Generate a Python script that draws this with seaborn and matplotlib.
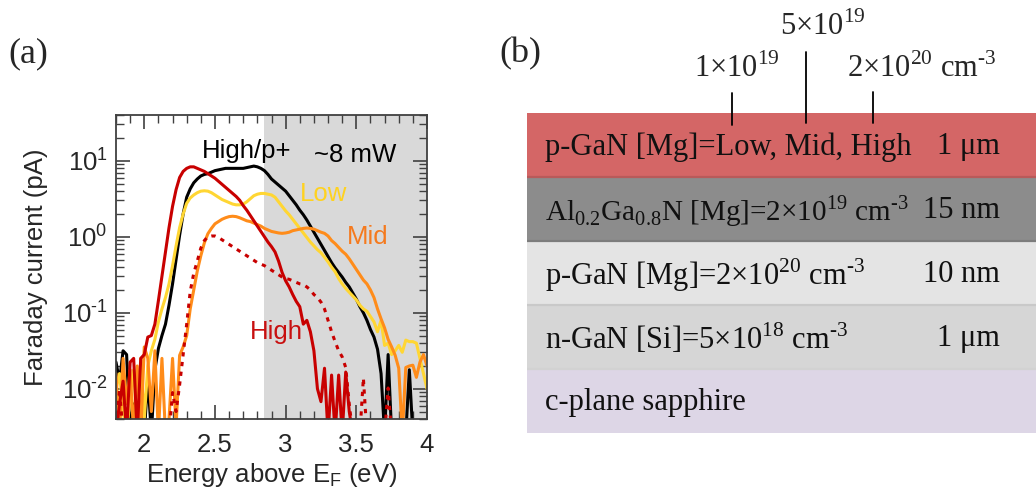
import numpy as np
import matplotlib
matplotlib.use("Agg")
import matplotlib.pyplot as plt
from matplotlib.ticker import MultipleLocator, FuncFormatter, LogLocator
from matplotlib.lines import Line2D
import seaborn as sns

# energy axis of the spectra (eV above E_F)
energy = [1.800, 1.825, 1.850, 1.875, 1.900, 1.925, 1.950, 1.975, 2.000, 2.025,
          2.050, 2.075, 2.100, 2.125, 2.150, 2.175, 2.200, 2.225, 2.250, 2.275,
          2.300, 2.325, 2.350, 2.375, 2.400, 2.425, 2.450, 2.475, 2.500, 2.525,
          2.550, 2.575, 2.600, 2.625, 2.650, 2.675, 2.700, 2.725, 2.750, 2.775,
          2.800, 2.825, 2.850, 2.875, 2.900, 2.925, 2.950, 2.975, 3.000, 3.025,
          3.050, 3.075, 3.100, 3.125, 3.150, 3.175, 3.200, 3.225, 3.250, 3.275,
          3.300, 3.325, 3.350, 3.375, 3.400, 3.425, 3.450, 3.475, 3.500, 3.525,
          3.550, 3.575, 3.600, 3.625, 3.650, 3.675, 3.700, 3.725, 3.750, 3.775,
          3.800, 3.825, 3.850, 3.875, 3.900, 3.925, 3.950, 3.975, 4.000]

# log10 of Faraday current (pA)
log_highp = [-1.65, -1.9, -1.5, -1.55, -2.6, -2.2, -2.6, -2.3, -2.6, -1.85,
             -2.6, -1.75, -1.47, -1.3, -1.15, -0.9, -0.62, -0.3, 0.02, 0.3,
             0.52, 0.63, 0.71, 0.76, 0.8, 0.82, 0.83, 0.85, 0.87, 0.88,
             0.89, 0.9, 0.9, 0.9, 0.9, 0.9, 0.9, 0.91, 0.92, 0.93,
             0.92, 0.9, 0.87, 0.82, 0.76, 0.72, 0.68, 0.64, 0.6, 0.54,
             0.48, 0.42, 0.35, 0.29, 0.22, 0.14, 0.06, -0.02, -0.1, -0.18,
             -0.26, -0.34, -0.41, -0.47, -0.53, -0.6, -0.66, -0.74, -0.82, -0.92,
             -1.0, -1.1, -1.22, -1.32, -1.48, -1.8, -2.6, -1.55, -2.6, -2.6,
             -2.6, -2.6, -2.6, -1.75, -2.6, -2.6, -2.6, -2.6, -2.6]

log_low = [-2.0, -1.8, -2.3, -2.6, -2.1, -1.75, -2.6, -1.6, -2.4, -1.7,
           -1.5, -1.35, -1.12, -0.95, -0.8, -0.62, -0.38, -0.12, 0.12, 0.3,
           0.44, 0.51, 0.55, 0.58, 0.6, 0.605, 0.6, 0.58, 0.55, 0.52,
           0.49, 0.47, 0.45, 0.43, 0.42, 0.42, 0.43, 0.46, 0.5, 0.54,
           0.56, 0.57, 0.57, 0.56, 0.55, 0.52, 0.46, 0.4, 0.34, 0.29,
           0.23, 0.17, 0.11, 0.05, -0.01, -0.07, -0.12, -0.17, -0.21, -0.27,
           -0.33, -0.4, -0.46, -0.55, -0.62, -0.68, -0.73, -0.78, -0.83, -0.9,
           -0.95, -0.98, -1.05, -1.12, -1.25, -1.1, -1.43, -1.4, -1.55, -1.5,
           -1.43, -1.52, -1.36, -1.38, -1.38, -1.4, -1.6, -1.8, -2.0]

log_mid = [-1.8, -2.6, -1.6, -2.2, -1.75, -2.6, -1.7, -2.6, -1.45, -1.6,
           -2.3, -1.5, -2.6, -1.6, -2.6, -2.4, -1.6, -2.5, -1.56, -1.45,
           -1.3, -0.95, -0.7, -0.45, -0.25, -0.08, 0.04, 0.11, 0.17, 0.2,
           0.23, 0.25, 0.265, 0.27, 0.265, 0.25, 0.23, 0.21, 0.2, 0.18,
           0.16, 0.14, 0.11, 0.09, 0.07, 0.06, 0.05, 0.045, 0.05, 0.06,
           0.08, 0.09, 0.1, 0.11, 0.115, 0.11, 0.1, 0.08, 0.06, 0.045,
           0.01, -0.05, -0.09, -0.14, -0.19, -0.23, -0.29, -0.36, -0.43, -0.5,
           -0.57, -0.62, -0.7, -0.8, -0.95, -1.08, -1.2, -1.35, -1.45, -1.56,
           -1.73, -2.6, -1.72, -1.7, -1.69, -1.85, -1.65, -1.55, -1.7]

log_high = [-2.6, -2.2, -1.9, -2.6, -1.65, -1.6, -2.6, -1.6, -1.55, -1.32,
            -1.3, -1.15, -0.84, -0.52, -0.2, 0.12, 0.4, 0.62, 0.78, 0.86,
            0.9, 0.92, 0.92, 0.9, 0.88, 0.86, 0.83, 0.8, 0.77, 0.73,
            0.69, 0.65, 0.61, 0.57, 0.53, 0.48, 0.41, 0.35, 0.28, 0.21,
            0.14, 0.07, 0.0, -0.07, -0.13, -0.2, -0.32, -0.47, -0.58, -0.66,
            -0.76, -0.85, -0.92, -1.15, -1.1, -1.25, -1.5, -2.0, -2.17, -1.73,
            -2.6, -1.82, -2.6, -1.82, -2.6, -1.78, -2.3, -2.6, -2.6, -2.6,
            -2.6, -2.6, -2.6, -2.6, -2.6, -2.6, -2.6, -2.6, -2.6, -2.6,
            -2.6, -2.6, -2.6, -2.6, -2.6, -2.6, -2.6, -2.6, -2.6]

log_high_dot = [-2.6, -2.0, -2.6, -2.6, -2.6, -2.6, -2.6, -2.6, -2.6, -2.6,
                -2.6, -2.6, -2.6, -2.6, -2.6, -2.6, -2.05, -2.3, -1.95, -1.55,
                -1.15, -0.72, -0.48, -0.32, -0.15, -0.05, 0.0, 0.01, 0.01, -0.01,
                -0.04, -0.07, -0.1, -0.13, -0.16, -0.19, -0.22, -0.25, -0.28, -0.31,
                -0.34, -0.36, -0.38, -0.41, -0.44, -0.47, -0.5, -0.53, -0.55, -0.56,
                -0.58, -0.6, -0.62, -0.63, -0.66, -0.7, -0.76, -0.8, -0.86, -0.95,
                -1.1, -1.25, -1.38, -1.5, -1.58, -1.72, -2.2, -2.6, -2.6, -2.6,
                -1.86, -2.6, -2.6, -2.6, -2.6, -2.6, -2.6, -1.99, -2.6, -2.6,
                -2.6, -2.6, -2.6, -2.6, -2.6, -2.6, -2.6, -2.6, -2.6]

# sample stack, top to bottom
layer_names = ["p-GaN [Mg]=Low, Mid, High",
               r"Al$_{\mathdefault{0.2}}$Ga$_{\mathdefault{0.8}}$N [Mg]=2×10$^{\mathdefault{19}}$ cm$^{\text{-3}}$",
               r"p-GaN [Mg]=2×10$^{\mathdefault{20}}$ cm$^{\text{-3}}$",
               r"n-GaN [Si]=5×10$^{\mathdefault{18}}$ cm$^{\text{-3}}$",
               "c-plane sapphire"]
layer_thick = ["1 μm", "15 nm", "10 nm", "1 μm", ""]
layer_colors = ["#d46666", "#8c8c8c", "#e4e4e4", "#d6d6d6", "#ddd6e6"]

sns.set_theme(style="ticks")
plt.rcParams['font.family'] = ['Liberation Sans', 'DejaVu Sans']
plt.rcParams['mathtext.fontset'] = 'custom'
plt.rcParams['mathtext.rm'] = 'Liberation Serif'

W, H = 1036, 497
fig = plt.figure(figsize=(W / 100, H / 100), dpi=100)

# ---- (a) spectra
ax = fig.add_axes([116 / W, 1 - 419 / H, 311 / W, 304 / H])
ax.axvspan(2.85, 4.0, color="#d9d9d9", lw=0, zorder=0)

series = [(log_highp, "black", "-"), (log_low, "#ffd633", "-"),
          (log_mid, "#ff8c1a", "-"), (log_high_dot, "#c80000", (0, (1.4, 1.8))),
          (log_high, "#c80000", "-")]
for vals, col, ls in series:
    sns.lineplot(x=energy, y=10 ** np.array(vals), ax=ax, color=col,
                 linewidth=2.2, linestyle=ls, estimator=None, sort=False)

ax.set_yscale("log")
ax.set_xlim(1.8, 4.0)
ax.set_ylim(0.004, 40)
ax.xaxis.set_major_locator(MultipleLocator(0.5))
ax.xaxis.set_minor_locator(MultipleLocator(0.1))
ax.xaxis.set_major_formatter(FuncFormatter(lambda v, p: f"{v:g}"))
ax.yaxis.set_major_locator(LogLocator(base=10, numticks=10))
ax.yaxis.set_minor_locator(LogLocator(base=10, subs=np.arange(2, 10), numticks=20))
ax.yaxis.set_major_formatter(FuncFormatter(
    lambda v, p: r"$\mathdefault{10^{%s}}$" % str(int(round(np.log10(v)))).replace("-", "\u2010")))
ax.tick_params(which="both", direction="in", top=True, right=True,
               color="#404040", labelsize=18.5)
ax.tick_params(which="major", length=10, width=1.2)
ax.tick_params(which="minor", length=5.5, width=1.0)
ax.tick_params(axis="x", which="major", pad=10)
ax.tick_params(axis="y", which="major", pad=6)
for s in ax.spines.values():
    s.set_color("#404040")
    s.set_linewidth(1.3)
ax.set_xlabel(r"Energy above E$_\mathdefault{F}$ (eV)", fontsize=18.5, labelpad=3)
ax.set_ylabel("Faraday current (pA)", fontsize=18.5, labelpad=10)

ax.text(2.727, 13.4, "High/p+", fontsize=18.5, color="black", ha="center", va="center")
ax.text(3.49, 11.9, "~8 mW", fontsize=18.5, color="black", ha="center", va="center")
ax.text(3.27, 3.63, "Low", fontsize=18.5, color="#ffd21f", ha="center", va="center")
ax.text(3.583, 0.99, "Mid", fontsize=18.5, color="#f57a1e", ha="center", va="center")
ax.text(2.932, 0.056, "High", fontsize=18.5, color="#c81010", ha="center", va="center")

# ---- (b) layer stack
serif = "Liberation Serif"
bx = fig.add_axes([527 / W, 1 - 433 / H, 509 / W, 320 / H])
bx.barh(y=np.arange(len(layer_names)), width=1.0, height=1.0, left=0,
        color=layer_colors, linewidth=0)
bx.set_xlim(0, 1)
bx.set_ylim(len(layer_names) - 0.5, -0.5)
for yb, c in zip([0.5, 1.5, 2.5, 3.5], ["#b85a5a", "#7c7c7c", "#c9c9c9", "#d2d2d2"]):
    bx.axhline(yb, color=c, lw=1.6)
bx.axis("off")
for i, (name, th) in enumerate(zip(layer_names, layer_thick)):
    bx.text(0.035, i + 0.03, name, family=serif, fontsize=21 if i == 1 else 22,
            color="#111111", ha="left", va="center")
    if th:
        bx.text(0.929, i + 0.03, th, family=serif, fontsize=22, color="#111111",
                ha="right", va="center")

# doping annotations above the top layer
def fx(px):
    return px / W

def fy(py):
    return 1 - py / H

fig.text(fx(694), fy(77), r"1×10$^{\mathdefault{19}}$", family=serif, fontsize=22, va="baseline")
fig.text(fx(780), fy(35), r"5×10$^{\mathdefault{19}}$", family=serif, fontsize=22, va="baseline")
fig.text(fx(847), fy(77), r"2×10$^{\mathdefault{20}}$ cm$^{\text{-3}}$", family=serif,
         fontsize=22, va="baseline")
for xp, y0, y1 in [(732, 93, 125), (806, 52, 123), (873, 92, 123)]:
    fig.add_artist(Line2D([fx(xp), fx(xp)], [fy(y0), fy(y1)], color="black", lw=1.3))

fig.text(fx(8), fy(54), "(a)", family=serif, fontsize=26, va="center")
fig.text(fx(499), fy(54), "(b)", family=serif, fontsize=26, va="center")

fig.savefig("out.png", dpi=100)
